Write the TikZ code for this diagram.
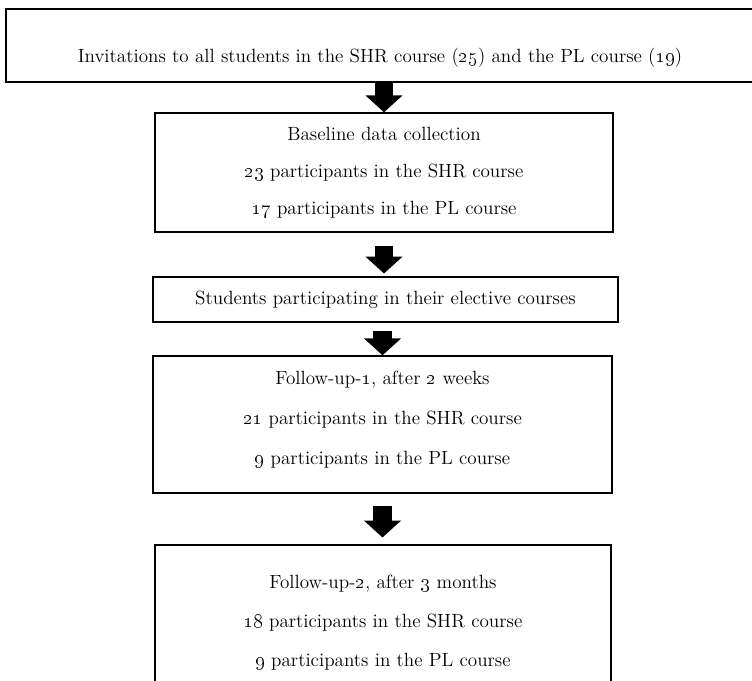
\documentclass[tikz,border=0pt]{standalone}
\usetikzlibrary{arrows.meta}
\newcommand{\osn}[1]{\oldstylenums{#1}}
\begin{document}
\begin{tikzpicture}[x=0.025cm,y=-0.025cm]
	\tikzstyle{every node}=[font=\fontsize{13.6}{26.3}\selectfont]
	\tikzstyle{box}=[draw, line width=1pt, align=center, inner sep=0pt]
	\tikzstyle{fat}=[line width=0.45cm, -{Triangle[width=0.9cm,length=0.42cm]}]
	\useasboundingbox (0,0) rectangle (752,680);
	
	\node[box, minimum width=18.7cm, text height=1.325cm, text depth=0.5cm] (invite) at (380,45.5) {Invitations to all students in the SHR course (\osn{25}) and the PL course (\osn{19})};
	\node[box, minimum width=11.45cm, minimum height=2.975cm] (baseline) at (384,172.5) {Baseline data collection\\ \osn{23} participants in the SHR course\\ \osn{17} participants in the PL course};
	\node[box, minimum width=11.625cm, minimum height=1.125cm] (elective) at (385.5,299.5) {Students participating in their elective courses};
	\node[box, minimum width=11.475cm, minimum height=3.425cm, font=\fontsize{13.6}{28.4}\selectfont] (follow1) at (382.5,424.5) {Follow-up-\osn{1}, after \osn{2} weeks\\ \osn{21} participants in the SHR course\\ \osn{9} participants in the PL course\\[-0.68cm]};
	\node[box, minimum width=11.4cm, minimum height=3.875cm, font=\fontsize{13.6}{27.7}\selectfont] (follow2) at (383,622.5) {Follow-up-\osn{2}, after \osn{3} months\\ \osn{18} participants in the SHR course\\ \osn{9} participants in the PL course};
	
	\draw[fat] (invite.south -| baseline.north) ++(0,0.05) -- (baseline.north);
	\draw[fat, shorten <=0.32cm, shorten >=0.07cm] (baseline.south) -- (baseline.south |- elective.north);
	\draw[fat, shorten <=0.2cm] (elective.south -| follow1.north) -- (follow1.north);
	\draw[fat, shorten <=0.3cm, shorten >=0.17cm] (follow1.south) -- (follow1.south |- follow2.north);
	
\end{tikzpicture}
\end{document}
